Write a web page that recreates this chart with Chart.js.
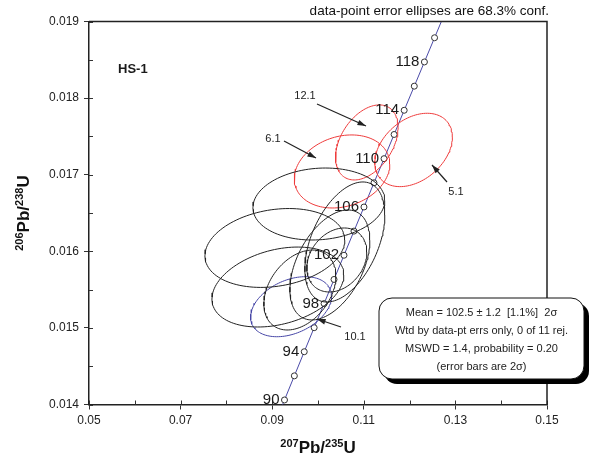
<!DOCTYPE html>
<html>
<head>
<meta charset="utf-8">
<script src="https://cdn.jsdelivr.net/npm/chart.js@4.4.1/dist/chart.umd.min.js"></script>
<style>
  body { margin: 0; background: #fff; }
  #wrap { width: 594px; height: 466px; }
</style>
</head>
<body>
<div id="wrap"><canvas id="chart" width="594" height="466"></canvas></div>
<script>
// concordia ages (Ma) and their ratios
const concAges = [88, 90, 92, 94, 96, 98, 100, 102, 104, 106, 108, 110, 112, 114, 116, 118, 120, 122];
const concX = [0.090533, 0.092683, 0.094838, 0.096996, 0.099159, 0.101326, 0.103498, 0.105674, 0.107854, 0.110038,
               0.112226, 0.114419, 0.116617, 0.118818, 0.121024, 0.123234, 0.125449, 0.127668];
const concY = [0.013745, 0.014059, 0.014374, 0.014689, 0.015003, 0.015318, 0.015633, 0.015949, 0.016264, 0.016579,
               0.016895, 0.017210, 0.017526, 0.017842, 0.018157, 0.018473, 0.018789, 0.019106];
const ageLabels = [90, 94, 98, 102, 106, 110, 114, 118];

// spot ellipses: centre, half extents (68.3%) and error correlation
const spotNames = ['a', 'b', 'c', 'd', 'e', 'f', 'g', '10.1', '6.1', '12.1', '5.1'];
const spotX   = [0.10019, 0.09058, 0.09124, 0.10586, 0.10259, 0.10411, 0.09604, 0.09412, 0.10525, 0.11066, 0.12087];
const spotY   = [0.016618, 0.016044, 0.015534, 0.016122, 0.015822, 0.015887, 0.015495, 0.015277, 0.017043, 0.017422, 0.017324];
const spotDX  = [0.01440, 0.01527, 0.01440, 0.00873, 0.00873, 0.00655, 0.00786, 0.00884, 0.01043, 0.00683, 0.00847];
const spotDY  = [0.000470, 0.000515, 0.000522, 0.000784, 0.000718, 0.000418, 0.000522, 0.000392, 0.000477, 0.000490, 0.000479];
const spotRho = [0.1, 0.2, 0.3, 0.45, 0.45, 0.25, 0.35, 0.35, 0.2, 0.4, 0.35];
const spotGroup = ['k', 'k', 'k', 'k', 'k', 'k', 'k', 'b', 'r', 'r', 'r'];

const groupColor = { k: '#222222', b: '#4646a6', r: '#ee3b3b' };

function ellipsePoints(i) {
    const pts = [];
    const s = Math.sqrt(1 - spotRho[i] * spotRho[i]);
    for (let k = 0; k <= 120; k++) {
        const t = k / 120 * Math.PI * 2;
        pts.push({
            x: spotX[i] + spotDX[i] * Math.cos(t),
            y: spotY[i] + spotDY[i] * (spotRho[i] * Math.cos(t) + s * Math.sin(t))
        });
    }
    return pts;
}

const datasets = [];
['k', 'b', 'r'].forEach(g => {
    spotNames.forEach((name, i) => {
        if (spotGroup[i] !== g) return;
        datasets.push({
            label: name,
            data: ellipsePoints(i),
            showLine: true,
            borderColor: groupColor[g],
            borderWidth: 1,
            pointRadius: 0,
            fill: false,
            tension: 0
        });
    });
});
datasets.push({
    label: 'concordia',
    data: concX.map((x, i) => ({ x: x, y: concY[i] })),
    showLine: true,
    borderColor: '#4a4aa8',
    borderWidth: 1,
    pointRadius: 3,
    pointBackgroundColor: '#ffffff',
    pointBorderColor: '#333333',
    pointBorderWidth: 1,
    clip: 0
});

function arrow(ctx, x1, y1, x2, y2) {
    ctx.beginPath();
    ctx.moveTo(x1, y1);
    ctx.lineTo(x2, y2);
    ctx.stroke();
    const a = Math.atan2(y2 - y1, x2 - x1);
    ctx.beginPath();
    ctx.moveTo(x2, y2);
    ctx.lineTo(x2 - 9 * Math.cos(a - 0.32), y2 - 9 * Math.sin(a - 0.32));
    ctx.lineTo(x2 - 9 * Math.cos(a + 0.32), y2 - 9 * Math.sin(a + 0.32));
    ctx.closePath();
    ctx.fill();
}

function richText(ctx, parts, x, y, align) {
    // parts: [text, size, raise]
    let w = 0;
    parts.forEach(p => { ctx.font = 'bold ' + p[1] + 'px Arial, "Liberation Sans"'; w += ctx.measureText(p[0]).width; });
    let cx = align === 'center' ? x - w / 2 : x;
    ctx.textAlign = 'left';
    parts.forEach(p => {
        ctx.font = 'bold ' + p[1] + 'px Arial, "Liberation Sans"';
        ctx.fillText(p[0], cx, y - p[2]);
        cx += ctx.measureText(p[0]).width;
    });
}

const decor = {
    id: 'decor',
    afterDraw(chart) {
        const ctx = chart.ctx;
        const xs = chart.scales.x, ys = chart.scales.y;
        const a = chart.chartArea;
        ctx.save();
        ctx.strokeStyle = '#333';
        ctx.lineWidth = 1;
        // inner ticks
        xs.ticks.forEach((t, i) => {
            const px = Math.round(xs.getPixelForValue(t.value)) + 0.5;
            ctx.beginPath(); ctx.moveTo(px, a.bottom); ctx.lineTo(px, a.bottom - 4); ctx.stroke();
        });
        ys.ticks.forEach((t, i) => {
            const py = Math.round(ys.getPixelForValue(t.value)) + 0.5;
            ctx.beginPath(); ctx.moveTo(a.left, py); ctx.lineTo(a.left + 4, py); ctx.stroke();
        });
        // frame top and right
        ctx.strokeStyle = '#222';
        ctx.lineWidth = 1.5;
        ctx.beginPath();
        ctx.moveTo(a.left, a.top);
        ctx.lineTo(a.right, a.top);
        ctx.lineTo(a.right, a.bottom);
        ctx.stroke();

        ctx.fillStyle = '#1a1a1a';
        ctx.textBaseline = 'middle';
        // concordia age labels
        ctx.font = '15px Arial, "Liberation Sans"';
        ctx.textAlign = 'right';
        ageLabels.forEach(age => {
            const i = concAges.indexOf(age);
            ctx.fillText(String(age), xs.getPixelForValue(concX[i]) - 5, ys.getPixelForValue(concY[i]));
        });

        // sample name
        ctx.font = 'bold 13px Arial, "Liberation Sans"';
        ctx.textAlign = 'left';
        ctx.fillText('HS-1', 118, 69);

        // spot callouts
        ctx.font = '11px Arial, "Liberation Sans"';
        ctx.textAlign = 'center';
        ctx.fillStyle = '#222';
        ctx.strokeStyle = '#222';
        ctx.lineWidth = 1.2;
        ctx.fillText('12.1', 305, 96);
        arrow(ctx, 317, 104, 366, 126);
        ctx.fillText('6.1', 273, 139);
        arrow(ctx, 284, 141, 316, 158);
        ctx.fillText('5.1', 456, 192);
        arrow(ctx, 447, 182, 432, 165);
        ctx.fillText('10.1', 355, 337);
        arrow(ctx, 341, 327, 317, 319);

        // header note
        ctx.font = '13.5px Arial, "Liberation Sans"';
        ctx.textAlign = 'right';
        ctx.fillStyle = '#111';
        ctx.fillText('data-point error ellipses are 68.3% conf.', 549, 11);

        // axis titles
        ctx.fillStyle = '#111';
        ctx.textBaseline = 'alphabetic';
        richText(ctx, [['207', 11, 6], ['Pb/', 17, 0], ['235', 11, 6], ['U', 17, 0]], (a.left + a.right) / 2, 453, 'center');
        ctx.save();
        ctx.translate(29, (a.top + a.bottom) / 2);
        ctx.rotate(-Math.PI / 2);
        richText(ctx, [['206', 11, 6], ['Pb/', 17, 0], ['238', 11, 6], ['U', 17, 0]], 0, 0, 'center');
        ctx.restore();

        // stats box with shadow
        const bx = 379, by = 298, bw = 205, bh = 81, r = 13;
        const rr = (x, y) => {
            ctx.beginPath();
            ctx.moveTo(x + r, y);
            ctx.arcTo(x + bw, y, x + bw, y + bh, r);
            ctx.arcTo(x + bw, y + bh, x, y + bh, r);
            ctx.arcTo(x, y + bh, x, y, r);
            ctx.arcTo(x, y, x + bw, y, r);
            ctx.closePath();
        };
        ctx.fillStyle = '#000';
        rr(bx + 5, by + 5); ctx.fill();
        ctx.fillStyle = '#fff';
        rr(bx, by); ctx.fill();
        ctx.strokeStyle = '#111'; ctx.lineWidth = 1;
        ctx.stroke();
        ctx.fillStyle = '#222';
        ctx.font = '11px Arial, "Liberation Sans"';
        ctx.textAlign = 'center';
        ctx.textBaseline = 'middle';
        const cx = bx + bw / 2;
        ctx.fillText('Mean = 102.5 \u00b1 1.2  [1.1%]  2\u03c3', cx, by + 15);
        ctx.fillText('Wtd by data-pt errs only, 0 of 11 rej.', cx, by + 33);
        ctx.fillText('MSWD = 1.4, probability = 0.20', cx, by + 51);
        ctx.fillText('(error bars are 2\u03c3)', cx, by + 69);
        ctx.restore();
    }
};

new Chart(document.getElementById('chart'), {
    type: 'scatter',
    data: { datasets: datasets },
    options: {
        responsive: false,
        animation: false,
        layout: { padding: { top: 21.6, right: 47, left: 0, bottom: 0 } },
        plugins: { legend: { display: false }, tooltip: { enabled: false } },
        scales: {
            x: {
                type: 'linear', min: 0.05, max: 0.15,
                afterFit: s => { s.height = 61.5; },
                ticks: {
                    stepSize: 0.01, autoSkip: false, maxRotation: 0, padding: 4,
                    color: '#222', font: { family: 'Arial, "Liberation Sans"', size: 12 },
                    callback: (v, i) => i % 2 === 0 ? v.toFixed(2) : ''
                },
                grid: {
                    drawOnChartArea: false, tickLength: 5,
                    tickColor: c => c.index % 2 === 0 ? '#333' : 'rgba(0,0,0,0)'
                },
                border: { color: '#222', width: 1.5 }
            },
            y: {
                type: 'linear', min: 0.014, max: 0.019,
                afterFit: s => { s.width = 89; },
                ticks: {
                    stepSize: 0.0005, autoSkip: false, padding: 5,
                    color: '#222', font: { family: 'Arial, "Liberation Sans"', size: 12 },
                    callback: (v, i) => i % 2 === 0 ? v.toFixed(3) : ''
                },
                grid: {
                    drawOnChartArea: false, tickLength: 5,
                    tickColor: c => c.index % 2 === 0 ? '#333' : 'rgba(0,0,0,0)'
                },
                border: { color: '#222', width: 1.5 }
            }
        }
    },
    plugins: [decor]
});
</script>
</body>
</html>
